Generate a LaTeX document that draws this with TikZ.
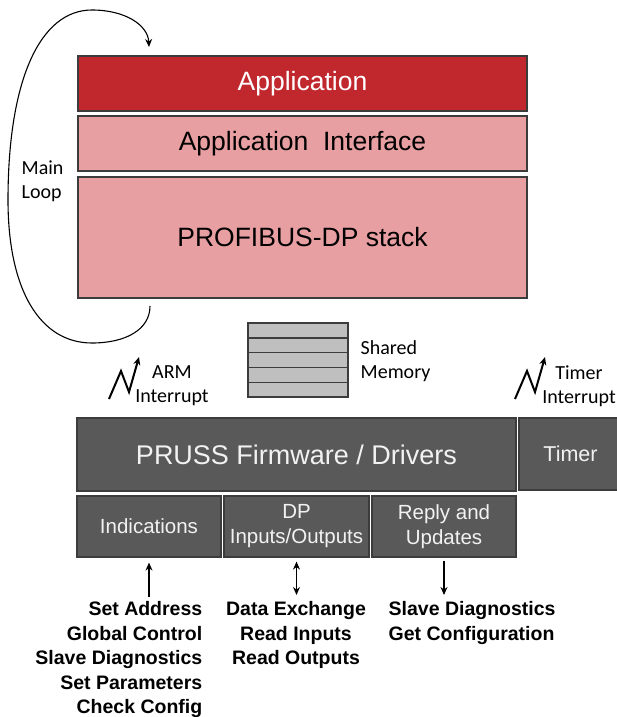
\documentclass[tikz,border=0pt]{standalone}
\usepackage{fontspec}
\setmainfont{Liberation Sans}
\newfontfamily\calibri{Carlito}
\usepackage{xcolor}
\usepackage{tikz}
\usetikzlibrary{calc, positioning, arrows.meta}

\definecolor{appred}{HTML}{C1282E}
\definecolor{stackpink}{HTML}{E89FA2}
\definecolor{prussgray}{HTML}{595959}
\definecolor{edgegray}{HTML}{3C3C3C}
\definecolor{memgray}{HTML}{BFBFBF}
\definecolor{lighttext}{HTML}{F2F2F2}

\tikzset{
    layer/.style={draw=edgegray, line width=1.2pt, inner sep=0pt, minimum width=449pt,
        font=\fontsize{26.5}{31}\selectfont},
    fwbox/.style={draw=edgegray, fill=prussgray, line width=1.2pt, inner sep=0pt,
        text=lighttext, align=center},
    note/.style={font=\calibri\fontsize{20}{24}\selectfont, inner sep=0pt},
    cmdlist/.style={font=\bfseries\fontsize{19.5}{24.5}\selectfont, inner sep=0pt}
}

\begin{document}
\begin{tikzpicture}[x=1pt, y=-1pt, >={Stealth[length=8pt,width=7pt]}, line width=1.4pt]
    \useasboundingbox (0,0) rectangle (616,717);

    % Các lớp phần mềm phía ARM
    \node[layer, fill=appred, text=white, minimum height=55pt] (app) at (302.5,83.5) {Application};
    \node[layer, fill=stackpink, minimum height=55pt] (appif) at (302.5,143.5) {Application\ \ Interface};
    \node[layer, fill=stackpink, minimum height=121pt] (stack) at (302.5,237.5) {PROFIBUS-DP stack};

    % Vòng lặp chính
    \coordinate (loopstart) at (150,306);
    \coordinate (loopend) at (149,47);
    \draw[->, line width=1.1pt] (loopstart)
        .. controls (150,330) and (125,343) .. (92,343)
        .. controls (40,343) and (8,290) .. (8,200)
        .. controls (8,80) and (40,10) .. (92,10)
        .. controls (125,10) and (148,25) .. (loopend);
    \node[note, anchor=west, align=left] (looplbl) at (21,181) {Main\\Loop};

    % Bộ nhớ dùng chung
    \node[draw=edgegray, minimum width=100pt, minimum height=74pt, inner sep=0pt] (shmem) at (298,360) {};
    \foreach \i in {0,...,4}
        \draw[draw=edgegray, fill=memgray] (248,{323+14.8*\i}) rectangle (348,{323+14.8*(\i+1)});
    \node[note, anchor=west, align=left] (shmemlbl) at (360,361) {Shared\\Memory};

    % Các ngắt
    \foreach \dx in {0,406}
        \draw[->, line width=2pt, line join=miter]
            (109+\dx,399) -- (121+\dx,371) -- (129+\dx,392) -- (139+\dx,357);
    \node[note, align=center] (armlbl) at (172,386) {ARM\\Interrupt};
    \node[note, align=center] (timerlbl) at (579,386) {Timer\\Interrupt};

    % Firmware PRUSS
    \node[fwbox, minimum width=439pt, minimum height=73pt, font=\fontsize{27}{32}\selectfont] (pruss) at (296.5,454.5) {PRUSS Firmware / Drivers};
    \node[fwbox, minimum width=103pt, minimum height=72pt, font=\fontsize{21.5}{25}\selectfont] (timer) at (570.5,454) {Timer};
    \node[fwbox, minimum width=144pt, minimum height=61pt, font=\fontsize{20.5}{25}\selectfont] (ind) at (149,526.5) {Indications};
    \node[fwbox, minimum width=145pt, minimum height=61pt, font=\fontsize{20.5}{25}\selectfont] (dpio) at (296.5,526.5) {DP\\Inputs/Outputs};
    \node[fwbox, minimum width=144pt, minimum height=61pt, font=\fontsize{20.5}{25}\selectfont] (reply) at (444,526.5) {Reply and\\Updates};

    % Các dịch vụ
    \node[cmdlist, anchor=north east, align=right] (indlist) at (203,601)
        {Set Address\\Global Control\\Slave Diagnostics\\Set Parameters\\Check Config};
    \node[cmdlist, anchor=north, align=center] (iolist) at (296,601)
        {Data Exchange\\Read Inputs\\Read Outputs};
    \node[cmdlist, anchor=north west, align=left] (replylist) at (388,601)
        {Slave Diagnostics\\Get Configuration};

    \draw[->, shorten <=4pt, shorten >=5pt] (ind.south |- indlist.north) -- (ind.south);
    \draw[<->, shorten <=4pt, shorten >=6pt] (dpio.south) -- (dpio.south |- iolist.north);
    \draw[->, shorten <=3pt, shorten >=6pt] (reply.south) -- (reply.south |- replylist.north);
\end{tikzpicture}
\end{document}
